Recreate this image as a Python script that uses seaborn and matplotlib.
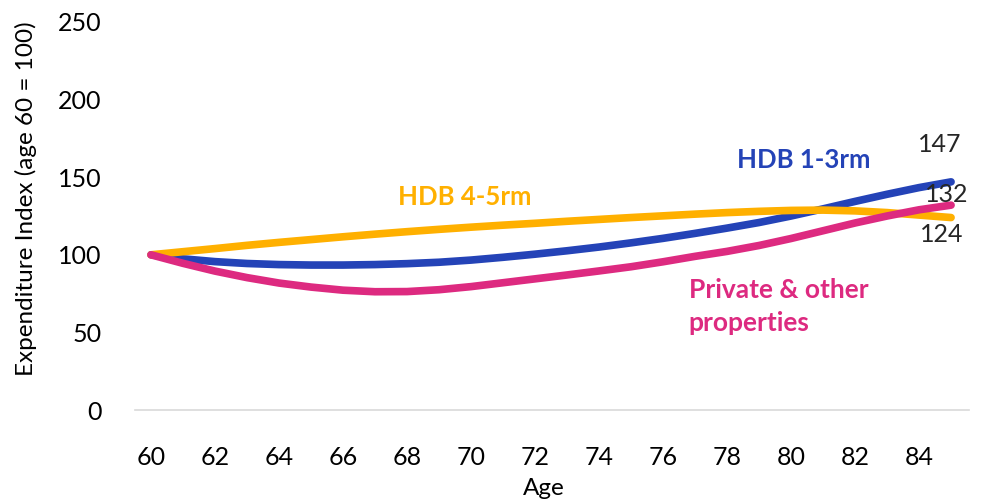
import pandas as pd
import matplotlib
matplotlib.use('Agg')
import matplotlib.pyplot as plt
import seaborn as sns

# data (index, age 60 = 100)
ages = list(range(60, 86))
hdb_13 = [100, 97.4, 95.6, 94.4, 93.7, 93.4, 93.4, 93.7, 94.3, 95.2, 96.6, 98.4, 100.4,
          102.6, 105.0, 107.7, 110.6, 113.8, 117.2, 120.8, 125.0, 129.6, 134.4, 139.0, 143.3, 147.0]
hdb_45 = [100, 102.0, 104.0, 106.1, 108.0, 109.8, 111.6, 113.3, 114.9, 116.4, 117.8, 119.1, 120.3,
          121.6, 122.8, 124.0, 125.1, 126.2, 127.2, 128.0, 128.6, 128.8, 128.3, 127.2, 125.6, 124.0]
private = [100, 94.5, 89.5, 85.3, 81.8, 79.2, 77.2, 76.2, 76.3, 77.5, 79.5, 82.0, 84.5,
           87.0, 89.6, 92.3, 95.5, 99.0, 102.2, 106.0, 110.5, 115.5, 120.5, 125.0, 129.0, 132.0]

series_names = ['HDB 1-3rm', 'HDB 4-5rm', 'Private & other\nproperties']
colors = ['#2443B7', '#FFB000', '#DD2A80']
x_ticks = list(range(60, 85, 2))
y_ticks = [0, 50, 100, 150, 200, 250]

df = pd.concat([
    pd.DataFrame({'Age': ages, 'Index': hdb_13, 'Type': series_names[0]}),
    pd.DataFrame({'Age': ages, 'Index': hdb_45, 'Type': series_names[1]}),
    pd.DataFrame({'Age': ages, 'Index': private, 'Type': series_names[2]}),
])

sns.set_style('white')
plt.rcParams['font.family'] = ['Lato', 'DejaVu Sans']

fig = plt.figure(figsize=(9.9, 5.01), dpi=100)
ax = fig.add_axes([135 / 990, 1 - 410 / 501, 834 / 990, 388 / 501])

sns.lineplot(data=df, x='Age', y='Index', hue='Type', palette=colors,
             linewidth=5.5, legend=False, ax=ax, sort=False)
for line in ax.lines:
    line.set_solid_capstyle('round')

ax.set_xlim(59.5, 85.56)
ax.set_ylim(0, 250)
ax.set_xticks(x_ticks)
ax.set_yticks(y_ticks)
ax.tick_params(axis='both', length=0, labelsize=18, colors='black')
ax.tick_params(axis='y', pad=24)
ax.tick_params(axis='x', pad=26)

for s in ['top', 'right', 'left']:
    ax.spines[s].set_visible(False)
ax.spines['bottom'].set_color('#D9D9D9')
ax.spines['bottom'].set_linewidth(1.2)

ax.set_xlabel('Age', fontsize=17.5, color='black')
ax.xaxis.set_label_coords(0.49, -0.175)
ax.set_ylabel('Expenditure Index (age 60 = 100)', fontsize=17.5, color='black')
ax.yaxis.set_label_coords(-0.117, 0.545)

# series labels
ax.text(69.8, 137, series_names[1], color=colors[1], fontsize=18.5, fontweight='bold',
        ha='center', va='center')
ax.text(80.4, 161, series_names[0], color=colors[0], fontsize=18.5, fontweight='bold',
        ha='center', va='center')
ax.text(76.8, 67, series_names[2], color=colors[2], fontsize=19, fontweight='bold',
        ha='left', va='center', linespacing=1.45)

# end value labels
ax.annotate(f'{hdb_13[-1]:.0f}', xy=(ages[-1], hdb_13[-1]), xytext=(-8, 27),
            textcoords='offset points', ha='center', va='center', fontsize=18)
ax.annotate(f'{private[-1]:.0f}', xy=(ages[-1], private[-1]), xytext=(-3, 8),
            textcoords='offset points', ha='center', va='center', fontsize=18)
ax.annotate(f'{hdb_45[-1]:.0f}', xy=(ages[-1], hdb_45[-1]), xytext=(-7, -12),
            textcoords='offset points', ha='center', va='center', fontsize=18)

plt.savefig('out.png', dpi=100)
